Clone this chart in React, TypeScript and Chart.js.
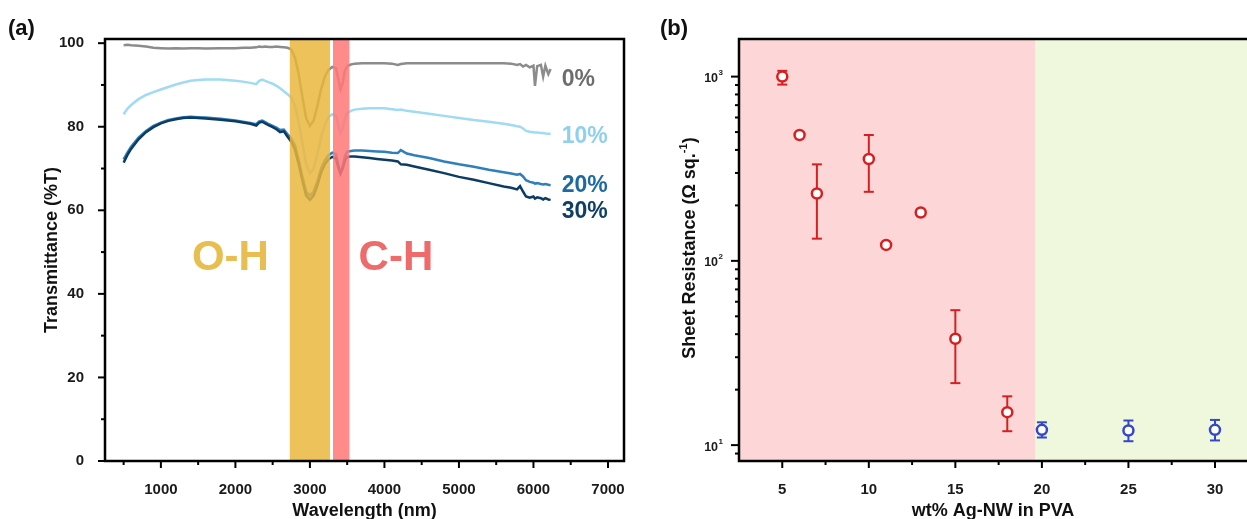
import React, { useEffect, useRef } from 'react';
import { Chart, registerables } from 'chart.js';
Chart.register(...registerables);

const FONT = "'Liberation Sans', Arial, sans-serif";

// ---------- Panel (a) data ----------
const wavelengths = [500, 550, 600, 700, 800, 900, 1000, 1100, 1200, 1300, 1400, 1500, 1600, 1800, 2000, 2100, 2200, 2280, 2320, 2360, 2400, 2450, 2500, 2550, 2600, 2650, 2700, 2750, 2800, 2850, 2900, 2950, 3000, 3050, 3100, 3150, 3200, 3250, 3300, 3350, 3380, 3410, 3440, 3470, 3500, 3550, 3600, 3700, 3800, 3900, 4000, 4100, 4180, 4220, 4300, 4400, 4600, 4800, 5000, 5200, 5400, 5600, 5700, 5780, 5820, 5860, 5900, 5950, 6000, 6020, 6050, 6100, 6130, 6160, 6200, 6230];

const trans0 = [99.5, 99.6, 99.5, 99.4, 99.2, 98.9, 98.8, 98.7, 98.8, 98.7, 98.8, 98.8, 98.7, 98.8, 98.8, 98.9, 98.9, 99.0, 99.2, 99.1, 99.2, 99.1, 99.1, 99.2, 99.1, 99.0, 98.9, 98.5, 96.5, 92.5, 87.0, 82.0, 80.2, 81.5, 85.0, 89.0, 92.0, 93.6, 94.3, 94.0, 91.5, 89.0, 90.5, 93.5, 94.5, 94.9, 95.1, 95.2, 95.2, 95.2, 95.2, 95.1, 94.8, 95.0, 95.2, 95.2, 95.2, 95.2, 95.2, 95.2, 95.2, 95.2, 95.1, 94.8, 95.0, 94.4, 94.8, 94.2, 94.6, 89.8, 94.5, 94.8, 92.0, 94.6, 92.6, 93.8];

const trans10 = [83.0, 84.3, 85.2, 86.6, 87.6, 88.3, 88.9, 89.5, 90.1, 90.6, 91.0, 91.2, 91.3, 91.3, 91.0, 90.8, 90.5, 90.2, 91.0, 91.3, 91.0, 90.6, 90.3, 89.8, 89.2, 88.5, 87.8, 87.0, 85.0, 81.0, 76.0, 71.0, 68.8, 70.0, 73.5, 77.5, 80.5, 82.3, 83.0, 82.6, 80.5, 78.5, 79.5, 82.0, 83.3, 83.8, 84.1, 84.3, 84.4, 84.4, 84.4, 84.2, 84.0, 84.1, 83.8, 83.6, 83.1, 82.6, 82.1, 81.6, 81.2, 80.7, 80.4, 80.1, 80.0, 79.6, 79.0, 78.8, 78.7, 78.6, 78.6, 78.5, 78.5, 78.4, 78.3, 78.3];

const trans20 = [72.2, 73.8, 75.2, 77.4, 79.0, 80.2, 81.0, 81.6, 82.0, 82.3, 82.4, 82.3, 82.2, 81.9, 81.5, 81.2, 80.9, 80.6, 81.3, 81.5, 81.1, 80.6, 80.2, 79.8, 79.2, 79.3, 78.2, 77.2, 75.5, 72.0, 68.0, 64.5, 63.5, 64.5, 67.0, 70.0, 72.0, 73.2, 73.8, 73.4, 71.0, 69.0, 70.5, 73.0, 74.0, 74.2, 74.3, 74.3, 74.2, 74.1, 74.0, 73.8, 73.7, 74.4, 73.6, 73.2, 72.5, 71.7, 71.0, 70.4, 69.7, 69.1, 68.8, 68.5, 68.7, 68.1, 67.2, 66.8, 66.6, 66.4, 66.5, 66.3, 66.2, 66.3, 66.1, 66.0];

const trans30 = [71.4, 73.2, 74.7, 77.0, 78.7, 79.9, 80.8, 81.4, 81.8, 82.1, 82.2, 82.1, 82.0, 81.7, 81.3, 81.0, 80.7, 80.3, 81.0, 81.2, 80.8, 80.3, 79.9, 79.4, 78.7, 78.9, 77.6, 76.4, 74.5, 71.0, 67.0, 63.5, 62.5, 63.5, 66.0, 69.0, 71.0, 72.2, 72.8, 72.4, 70.3, 68.8, 70.0, 72.0, 72.8, 72.9, 72.9, 72.7, 72.5, 72.3, 72.1, 71.9, 71.7, 71.0, 70.9, 70.5, 69.7, 68.9, 68.0, 67.3, 66.5, 65.7, 65.4, 65.0, 65.8, 64.5, 63.3, 63.0, 63.3, 62.8, 63.1, 62.9, 62.6, 62.9, 62.6, 62.5];

const seriesNames = ['0%', '10%', '20%', '30%'];
const xTicksA = [1000, 2000, 3000, 4000, 5000, 6000, 7000];
const xMinorA = [500, 1500, 2500, 3500, 4500, 5500, 6500];
const yTicksA = [0, 20, 40, 60, 80, 100];
const yMinorA = [10, 30, 50, 70, 90];
const ohBand = [2730, 3270];
const chBand = [3310, 3530];

// ---------- Panel (b) data ----------
const wtRed = [5, 6, 7, 10, 11, 13, 15, 18];
const resRed = [1000, 482, 232, 357, 122, 183, 37.8, 15.1];
const resRedLow = [905, 482, 132, 237, 122, 183, 21.7, 11.9];
const resRedHigh = [1075, 482, 334, 482, 122, 183, 54, 18.4];
const wtBlue = [20, 25, 30];
const resBlue = [12.1, 12.0, 12.1];
const resBlueLow = [11.0, 10.5, 10.6];
const resBlueHigh = [13.3, 13.6, 13.7];
const xTicksB = [5, 10, 15, 20, 25, 30];
const xMinorB = [7.5, 12.5, 17.5, 22.5, 27.5];
const yTicksB = [10, 100, 1000];
const yTickExpB = ['1', '2', '3'];
const yMinorB = [9, 20, 30, 40, 50, 60, 70, 80, 90, 200, 300, 400, 500, 600, 700, 800, 900];
const regionSplit = 19.6;

// ---------- styles ----------
const lineColors = ['#8c8c8c', '#a0daf3', '#2e7fba', '#0d3c63'];
const labelColors = ['#6e6e6e', '#8fd0ee', '#1d6aa3', '#0f3f66'];
const labelAnchorX = 6380;
const labelAnchorY = [89.65, 76.1, 64.5, 58.1];
const RED = '#d71f1f';
const BLUE = '#3447c9';

function tick(ctx: CanvasRenderingContext2D, x1: number, y1: number, x2: number, y2: number) {
  ctx.beginPath();
  ctx.moveTo(x1, y1);
  ctx.lineTo(x2, y2);
  ctx.stroke();
}

function rotatedText(ctx: CanvasRenderingContext2D, cx: number, cy: number, parts: { t: string; size: number; rise: number }[]) {
  ctx.save();
  ctx.translate(cx, cy);
  ctx.rotate(-Math.PI / 2);
  let total = 0;
  const widths = parts.map(p => {
    ctx.font = `bold ${p.size}px ${FONT}`;
    const w = ctx.measureText(p.t).width;
    total += w;
    return w;
  });
  let x = -total / 2;
  ctx.textAlign = 'left';
  ctx.textBaseline = 'alphabetic';
  parts.forEach((p, i) => {
    ctx.font = `bold ${p.size}px ${FONT}`;
    ctx.fillText(p.t, x, 6.5 - p.rise);
    x += widths[i];
  });
  ctx.restore();
}

const noPadX = (h: number) => (s: any) => { s.height = h; s.paddingLeft = 0; s.paddingRight = 0; };
const noPadY = (w: number) => (s: any) => { s.width = w; s.paddingTop = 0; s.paddingBottom = 0; };

const pluginA = {
  id: 'panelA',
  afterDatasetsDraw(chart: any) {
    const { ctx, chartArea: a, scales } = chart;
    const x = scales.x, y = scales.y;
    ctx.save();
    const o1 = x.getPixelForValue(ohBand[0]), o2 = x.getPixelForValue(ohBand[1]);
    ctx.fillStyle = 'rgba(234,182,60,0.84)';
    ctx.fillRect(o1, a.top, o2 - o1, a.bottom - a.top);
    const c1 = x.getPixelForValue(chBand[0]), c2 = x.getPixelForValue(chBand[1]);
    ctx.fillStyle = 'rgba(255,120,120,0.86)';
    ctx.fillRect(c1, a.top, c2 - c1, a.bottom - a.top);

    ctx.font = `bold 42px ${FONT}`;
    ctx.textAlign = 'center';
    ctx.textBaseline = 'alphabetic';
    ctx.fillStyle = '#e9be50';
    ctx.fillText('O-H', x.getPixelForValue(1933), y.getPixelForValue(45.7));
    ctx.fillStyle = '#ef6b6b';
    ctx.fillText('C-H', x.getPixelForValue(4154), y.getPixelForValue(45.7));

    ctx.font = `bold 23px ${FONT}`;
    ctx.textAlign = 'left';
    seriesNames.forEach((n, i) => {
      ctx.fillStyle = labelColors[i];
      ctx.fillText(n, x.getPixelForValue(labelAnchorX), y.getPixelForValue(labelAnchorY[i]));
    });
    ctx.restore();
  },
  afterDraw(chart: any) {
    const { ctx, chartArea: a, scales } = chart;
    const x = scales.x, y = scales.y;
    ctx.save();
    ctx.strokeStyle = '#000';
    ctx.lineWidth = 2;
    xTicksA.forEach(v => { const p = x.getPixelForValue(v); tick(ctx, p, a.bottom, p, a.bottom + 7); });
    xMinorA.forEach(v => { const p = x.getPixelForValue(v); tick(ctx, p, a.bottom, p, a.bottom + 4); });
    yTicksA.forEach(v => { const p = y.getPixelForValue(v); tick(ctx, a.left, p, a.left - 7, p); });
    yMinorA.forEach(v => { const p = y.getPixelForValue(v); tick(ctx, a.left, p, a.left - 4, p); });
    ctx.lineWidth = 2.5;
    ctx.strokeRect(a.left, a.top, a.right - a.left, a.bottom - a.top);

    ctx.fillStyle = '#111';
    ctx.font = `bold 22px ${FONT}`;
    ctx.textAlign = 'left';
    ctx.textBaseline = 'middle';
    ctx.fillText('(a)', 8, 29);

    ctx.font = `bold 18px ${FONT}`;
    ctx.textAlign = 'center';
    ctx.textBaseline = 'alphabetic';
    ctx.fillText('Wavelength (nm)', (a.left + a.right) / 2, 516);
    rotatedText(ctx, 50.5, (a.top + a.bottom) / 2, [{ t: 'Transmittance (%T)', size: 18, rise: 0 }]);
    ctx.restore();
  },
};

const pluginB = {
  id: 'panelB',
  beforeDatasetsDraw(chart: any) {
    const { ctx, chartArea: a, scales } = chart;
    const x = scales.x, y = scales.y;
    ctx.save();
    const s = x.getPixelForValue(regionSplit);
    ctx.fillStyle = '#fdd7d7';
    ctx.fillRect(a.left, a.top, s - a.left, a.bottom - a.top);
    ctx.fillStyle = '#eff8dc';
    ctx.fillRect(s, a.top, a.right - s, a.bottom - a.top);

    const drawErr = (xs: number[], lo: number[], hi: number[], color: string) => {
      ctx.strokeStyle = color;
      ctx.lineWidth = 2;
      xs.forEach((v, i) => {
        if (lo[i] === hi[i]) return;
        const px = x.getPixelForValue(v);
        const pl = y.getPixelForValue(lo[i]);
        const ph = y.getPixelForValue(hi[i]);
        tick(ctx, px, pl, px, ph);
        tick(ctx, px - 5, pl, px + 5, pl);
        tick(ctx, px - 5, ph, px + 5, ph);
      });
    };
    drawErr(wtRed, resRedLow, resRedHigh, RED);
    drawErr(wtBlue, resBlueLow, resBlueHigh, BLUE);
    ctx.restore();
  },
  afterDraw(chart: any) {
    const { ctx, chartArea: a, scales } = chart;
    const x = scales.x, y = scales.y;
    ctx.save();
    ctx.strokeStyle = '#000';
    ctx.lineWidth = 2;
    xTicksB.forEach(v => { const p = x.getPixelForValue(v); tick(ctx, p, a.bottom, p, a.bottom + 7); });
    xMinorB.forEach(v => { const p = x.getPixelForValue(v); tick(ctx, p, a.bottom, p, a.bottom + 4); });
    yTicksB.forEach(v => { const p = y.getPixelForValue(v); tick(ctx, a.left, p, a.left - 8, p); });
    yMinorB.forEach(v => { const p = y.getPixelForValue(v); tick(ctx, a.left, p, a.left - 4, p); });
    ctx.lineWidth = 2.5;
    ctx.beginPath();
    ctx.moveTo(a.right + 2, a.top);
    ctx.lineTo(a.left, a.top);
    ctx.lineTo(a.left, a.bottom);
    ctx.lineTo(a.right + 2, a.bottom);
    ctx.stroke();

    // log tick labels: 10 with superscript exponent
    ctx.fillStyle = '#1a1a1a';
    ctx.textBaseline = 'alphabetic';
    yTicksB.forEach((v, i) => {
      const py = y.getPixelForValue(v);
      ctx.font = `bold 8px ${FONT}`;
      const we = ctx.measureText(yTickExpB[i]).width;
      ctx.font = `bold 12.5px ${FONT}`;
      const wb = ctx.measureText('10').width;
      const right = a.left - 16;
      ctx.textAlign = 'left';
      ctx.fillText('10', right - we - wb - 0.5, py + 5.5);
      ctx.font = `bold 8px ${FONT}`;
      ctx.fillText(yTickExpB[i], right - we, py - 1.5);
    });

    ctx.fillStyle = '#111';
    ctx.font = `bold 22px ${FONT}`;
    ctx.textAlign = 'left';
    ctx.textBaseline = 'middle';
    ctx.fillText('(b)', 20, 29);

    ctx.font = `bold 18px ${FONT}`;
    ctx.textAlign = 'center';
    ctx.textBaseline = 'alphabetic';
    ctx.fillText('wt% Ag-NW in PVA', (a.left + a.right) / 2, 516);
    rotatedText(ctx, 48, 248, [
      { t: 'Sheet Resistance (Ω sq.', size: 18, rise: 0 },
      { t: '-1', size: 11, rise: 8 },
      { t: ')', size: 18, rise: 0 },
    ]);
    ctx.restore();
  },
};

export default function App() {
  const refA = useRef<HTMLCanvasElement>(null);
  const refB = useRef<HTMLCanvasElement>(null);

  useEffect(() => {
    Chart.defaults.font.family = FONT;
    const tickFont = { size: 15, weight: 'bold' as const };
    const chartA = new Chart(refA.current as HTMLCanvasElement, {
      type: 'line',
      data: {
        datasets: [trans0, trans10, trans20, trans30].map((vals, i) => ({
          label: seriesNames[i],
          data: wavelengths.map((w, j) => ({ x: w, y: vals[j] })),
          borderColor: lineColors[i],
          borderWidth: 2.5,
          pointRadius: 0,
          tension: 0,
          fill: false,
          order: 3 - i,
        })),
      },
      options: {
        responsive: false,
        animation: false,
        devicePixelRatio: 1,
        events: [],
        layout: { autoPadding: false, padding: { left: 0, top: 39, right: 16, bottom: 0 } },
        plugins: { legend: { display: false }, tooltip: { enabled: false } },
        scales: {
          x: {
            type: 'linear',
            min: 250,
            max: 7215,
            grid: { display: false },
            border: { display: false },
            afterBuildTicks: (s: any) => { s.ticks = xTicksA.map(v => ({ value: v })); },
            afterFit: noPadX(58),
            ticks: { padding: 12, font: tickFont, color: '#1a1a1a', maxRotation: 0, autoSkip: false, callback: (v: any) => String(v) },
          },
          y: {
            type: 'linear',
            min: 0,
            max: 101,
            grid: { display: false },
            border: { display: false },
            afterBuildTicks: (s: any) => { s.ticks = yTicksA.map(v => ({ value: v })); },
            afterFit: noPadY(105),
            ticks: { padding: 13, font: tickFont, color: '#1a1a1a', autoSkip: false, callback: (v: any) => String(v) },
          },
        },
      },
      plugins: [pluginA],
    } as any);

    const chartB = new Chart(refB.current as HTMLCanvasElement, {
      type: 'scatter',
      data: {
        datasets: [
          {
            label: 'red',
            data: wtRed.map((w, i) => ({ x: w, y: resRed[i] })),
            pointRadius: 5,
            pointBorderWidth: 2.5,
            pointBorderColor: RED,
            pointBackgroundColor: '#ffffff',
            showLine: false,
          },
          {
            label: 'blue',
            data: wtBlue.map((w, i) => ({ x: w, y: resBlue[i] })),
            pointRadius: 5,
            pointBorderWidth: 2.5,
            pointBorderColor: BLUE,
            pointBackgroundColor: '#ffffff',
            showLine: false,
          },
        ],
      },
      options: {
        responsive: false,
        animation: false,
        devicePixelRatio: 1,
        events: [],
        layout: { autoPadding: false, padding: { left: 0, top: 39, right: 0, bottom: 0 } },
        plugins: { legend: { display: false }, tooltip: { enabled: false } },
        scales: {
          x: {
            type: 'linear',
            min: 2.5,
            max: 31.85,
            grid: { display: false },
            border: { display: false },
            afterBuildTicks: (s: any) => { s.ticks = xTicksB.map(v => ({ value: v })); },
            afterFit: noPadX(58),
            ticks: { padding: 12, font: tickFont, color: '#1a1a1a', maxRotation: 0, autoSkip: false, callback: (v: any) => String(v) },
          },
          y: {
            type: 'logarithmic',
            min: 8.2,
            max: 1600,
            grid: { display: false },
            border: { display: false },
            afterBuildTicks: (s: any) => { s.ticks = yTicksB.map(v => ({ value: v })); },
            afterFit: noPadY(99),
            ticks: { display: false },
          },
        },
      },
      plugins: [pluginB],
    } as any);

    return () => {
      chartA.destroy();
      chartB.destroy();
    };
  }, []);

  return (
    <div style={{ position: 'absolute', left: 0, top: 0, width: 1247, height: 519, background: '#ffffff' }}>
      <canvas ref={refA} width={640} height={519} style={{ position: 'absolute', left: 0, top: 0 }} />
      <canvas ref={refB} width={607} height={519} style={{ position: 'absolute', left: 640, top: 0 }} />
    </div>
  );
}
